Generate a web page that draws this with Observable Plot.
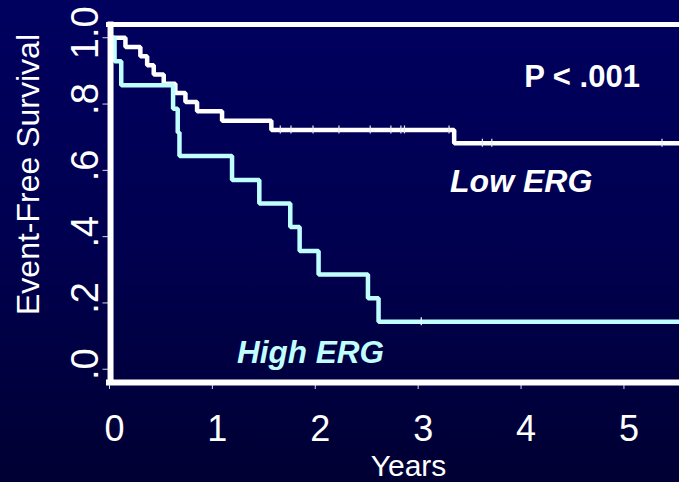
<!DOCTYPE html>
<html>
<head>
<meta charset="utf-8">
<script src="https://cdn.jsdelivr.net/npm/d3@7"></script>
<script src="https://cdn.jsdelivr.net/npm/@observablehq/plot@0.6"></script>
<style>
  html, body { margin: 0; padding: 0; }
  body { width: 679px; height: 482px; overflow: hidden;
         background: linear-gradient(to bottom, #00005f 0%, #000050 50%, #000033 100%); }
  svg { display: block; }
</style>
</head>
<body>
<div id="chart"></div>
<script>
// ---- Data ----
const lowTimes  = [0, 0.155, 0.30, 0.366, 0.43, 0.527, 0.64, 0.738, 0.851, 1.094, 1.573, 3.35];
const lowSurv   = [1, 0.972, 0.944, 0.917, 0.889, 0.861, 0.833, 0.806, 0.778, 0.750, 0.722, 0.682];
const lowCensor = [1.66, 1.764, 1.978, 2.23, 2.534, 2.735, 2.832, 2.867, 3.30, 3.624, 3.716, 5.37];

const highTimes  = [0, 0.049, 0.114, 0.618, 0.663, 0.680, 1.191, 1.456, 1.757, 1.848, 2.032, 2.512, 2.615];
const highSurv   = [1, 0.929, 0.857, 0.786, 0.714, 0.643, 0.571, 0.500, 0.429, 0.357, 0.286, 0.214, 0.143];
const highCensor = [3.03];

const followUpEnd = 5.54;
const xTicks = [0, 1, 2, 3, 4, 5];
const yTicks = [0, 0.2, 0.4, 0.6, 0.8, 1.0];
const yTickLabels = [".0", ".2", ".4", ".6", ".8", "1.0"];
const yDomain = [-0.04, 1.04];

// ---- Build tables ----
function curve(times, surv) {
  const pts = times.map((t, i) => ({t, s: surv[i]}));
  pts.push({t: followUpEnd, s: surv[surv.length - 1]});
  return pts;
}
function survAt(times, surv, t) {
  let s = surv[0];
  for (let i = 0; i < times.length; i++) if (times[i] <= t) s = surv[i];
  return s;
}
const lowCurve = curve(lowTimes, lowSurv);
const highCurve = curve(highTimes, highSurv);
const lowMarks = lowCensor.map(t => ({t, s: survAt(lowTimes, lowSurv, t)}));
const highMarks = highCensor.map(t => ({t, s: survAt(highTimes, highSurv, t)}));

const WHITE = "#ffffff";
const CYAN = "#c0ffff";
const FONT = "'Liberation Sans', Arial, Helvetica, sans-serif";

const chart = Plot.plot({
  width: 679,
  height: 482,
  marginLeft: 109,
  marginRight: 0,
  marginTop: 24,
  marginBottom: 100,
  x: {domain: [0, followUpEnd], axis: null},
  y: {domain: yDomain, axis: null},
  style: {background: "transparent", fontFamily: FONT, color: WHITE, overflow: "visible"},
  marks: [
    // tick marks
    Plot.ruleY(yTicks, {y: d => d, x1: 0, x2: 0, insetLeft: -6.5, insetRight: 0, stroke: "#d8d8e8", strokeWidth: 1}),
    Plot.ruleX(xTicks, {x: d => d, y1: yDomain[0], y2: yDomain[0], insetTop: 0, insetBottom: -7, stroke: "#d8d8e8", strokeWidth: 1}),
    // curves
    Plot.line(lowCurve, {x: "t", y: "s", curve: "step-after", stroke: WHITE, strokeWidth: 4.5, strokeLinejoin: "miter", strokeLinecap: "butt"}),
    Plot.line(highCurve, {x: "t", y: "s", curve: "step-after", stroke: CYAN, strokeWidth: 4.5, strokeLinejoin: "miter", strokeLinecap: "butt"}),
    // censoring marks
    Plot.ruleX(lowMarks, {x: "t", y1: "s", y2: "s", insetTop: -4, insetBottom: -4, stroke: "#e8e8f0", strokeWidth: 1.2}),
    Plot.ruleX(highMarks, {x: "t", y1: "s", y2: "s", insetTop: -4, insetBottom: -4, stroke: "#ffffff", strokeWidth: 1.2}),
    // frame
    Plot.ruleY([yDomain[1]], {stroke: WHITE, strokeWidth: 5, insetLeft: -3}),
    Plot.ruleY([yDomain[0]], {stroke: WHITE, strokeWidth: 6, insetLeft: -3}),
    Plot.ruleX([0.01], {stroke: WHITE, strokeWidth: 6, insetTop: -2.5, insetBottom: -3}),
    // tick labels
    Plot.text(xTicks, {x: d => d, y: yDomain[0], text: d => String(d), dx: 5, dy: 58, lineAnchor: "bottom", textAnchor: "middle", fontSize: 36, fill: WHITE}),
    Plot.text(yTicks, {x: 0, y: d => d, text: (d, i) => yTickLabels[i], rotate: -90, dx: -12, dy: -5, lineAnchor: "bottom", textAnchor: "middle", fontSize: 38, fill: WHITE}),
    // axis titles
    Plot.text(["Event-Free Survival"], {frameAnchor: "left", text: d => d, rotate: -90, dx: -71, dy: -29, lineAnchor: "bottom", textAnchor: "middle", fontSize: 32, fill: WHITE}),
    Plot.text(["Years"], {frameAnchor: "bottom", text: d => d, dx: 14, dy: 93.5, lineAnchor: "bottom", textAnchor: "middle", fontSize: 30, fill: WHITE}),
    // annotations
    Plot.text(["P < .001"], {x: 4.03, y: 0.852, text: d => d, textAnchor: "start", lineAnchor: "bottom", fontSize: 31, fontWeight: "bold", fill: WHITE}),
    Plot.text(["Low ERG"], {x: 3.31, y: 0.536, text: d => d, textAnchor: "start", lineAnchor: "bottom", fontSize: 32, fontWeight: "bold", fontStyle: "italic", fill: WHITE}),
    Plot.text(["High ERG"], {x: 1.24, y: 0.018, text: d => d, textAnchor: "start", lineAnchor: "bottom", fontSize: 31.5, fontWeight: "bold", fontStyle: "italic", fill: CYAN})
  ]
});
document.getElementById("chart").appendChild(chart);
</script>
</body>
</html>
